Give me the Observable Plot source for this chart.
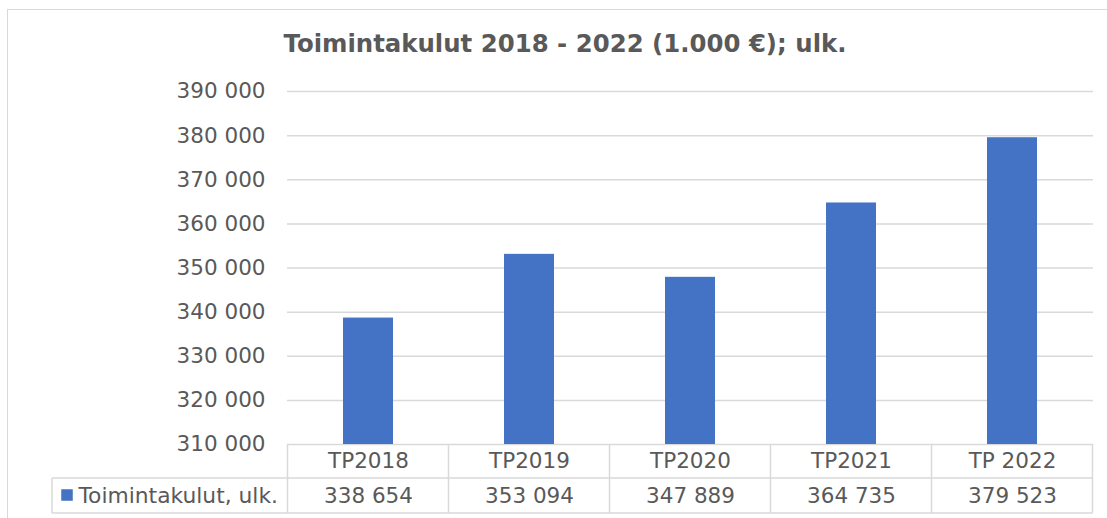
<!DOCTYPE html>
<html>
<head>
<meta charset="utf-8">
<script src="https://cdn.jsdelivr.net/npm/d3@7"></script>
<script src="https://cdn.jsdelivr.net/npm/@observablehq/plot@0.6"></script>
<style>
  html, body { margin: 0; padding: 0; background: #ffffff; }
  #wrap { position: relative; width: 1107px; height: 518px; overflow: hidden; background: #fff; }
  #frame { position: absolute; left: 7px; top: 9px; width: 1200px; height: 700px; border: 1.5px solid #d9d9d9; box-sizing: border-box; }
  #title { position: absolute; left: 0; width: 1130px; top: 32px; text-align: center; font-family: "DejaVu Sans", Verdana, sans-serif; font-weight: bold; font-size: 24.4px; line-height: 24px; color: #595959; white-space: nowrap; }
  #chart { position: absolute; left: 0; top: 0; }
</style>
</head>
<body>
<div id="wrap">
  <div id="frame"></div>
  <div id="chart"></div>
  <div id="title"></div>
</div>
<script>
const titleText = "Toimintakulut 2018 - 2022 (1.000 €); ulk.";
const seriesName = "Toimintakulut, ulk.";
const categories = ["TP2018", "TP2019", "TP2020", "TP2021", "TP 2022"];
const values = [338654, 353094, 347889, 364735, 379523];
const yTicks = [310000, 320000, 330000, 340000, 350000, 360000, 370000, 380000, 390000];

const data = categories.map((c, i) => ({cat: c, value: values[i]}));
const fmt = d => d3.format(",")(d).replace(/,/g, " ");
const textColor = "#595959";
const gridColor = "#d9d9d9";
const barColor = "#4472C4";

document.getElementById("title").textContent = titleText;

const chart = Plot.plot({
  width: 1107,
  height: 518,
  marginLeft: 287,
  marginRight: 14,
  marginTop: 91,
  marginBottom: 74,
  style: {fontFamily: "'DejaVu Sans', Verdana, sans-serif", fontSize: "21.5px", color: textColor, background: "transparent", overflow: "visible"},
  x: {domain: categories, paddingInner: 0.687, paddingOuter: 0.3435, axis: null},
  y: {domain: [310000, 390000], axis: null, label: null},
  marks: [
    Plot.gridY(yTicks, {stroke: gridColor, strokeOpacity: 1, strokeWidth: 1.5}),
    Plot.axisY(yTicks, {tickSize: 0, tickPadding: 22, tickFormat: fmt, fill: textColor, fontSize: 21.5, label: null}),
    Plot.barY(data, {x: "cat", y: "value", fill: barColor, clip: true}),
    Plot.text(data, {x: "cat", frameAnchor: "bottom", dy: 17, text: "cat", lineAnchor: "middle", fill: textColor, fontSize: 21.5}),
    Plot.text(data, {x: "cat", frameAnchor: "bottom", dy: 51.5, text: d => fmt(d.value), lineAnchor: "middle", fill: textColor, fontSize: 21.5}),
    Plot.text([seriesName], {frameAnchor: "bottom-left", textAnchor: "start", dx: -209, dy: 51.5, text: d => d, lineAnchor: "middle", fill: textColor, fontSize: 21.8}),
    Plot.dot([seriesName], {frameAnchor: "bottom-left", symbol: "square", r: 6.5, fill: barColor, stroke: null, dx: -220.5, dy: 50.5})
  ]
});

// data-table grid lines, positioned from the plot's own scales
const xs = chart.scale("x");
const ys = chart.scale("y");
const step = xs.step, bw = xs.bandwidth;
const left0 = xs.apply(categories[0]) - (step - bw) / 2;
const y0 = ys.apply(yTicks[0]);
const row1 = 34, row2 = 35;
const right = left0 + step * categories.length;
const legendLeft = 52;
const g = d3.select(chart).append("g").attr("stroke", gridColor).attr("stroke-width", 1.5).attr("fill", "none");
for (let i = 0; i <= categories.length; i++) {
  const x = left0 + i * step;
  g.append("line").attr("x1", x).attr("x2", x).attr("y1", y0).attr("y2", y0 + row1 + row2);
}
g.append("line").attr("x1", legendLeft).attr("x2", right).attr("y1", y0 + row1).attr("y2", y0 + row1);
g.append("line").attr("x1", legendLeft).attr("x2", right).attr("y1", y0 + row1 + row2).attr("y2", y0 + row1 + row2);
g.append("line").attr("x1", legendLeft).attr("x2", legendLeft).attr("y1", y0 + row1).attr("y2", y0 + row1 + row2);

document.getElementById("chart").appendChild(chart);
</script>
</body>
</html>
